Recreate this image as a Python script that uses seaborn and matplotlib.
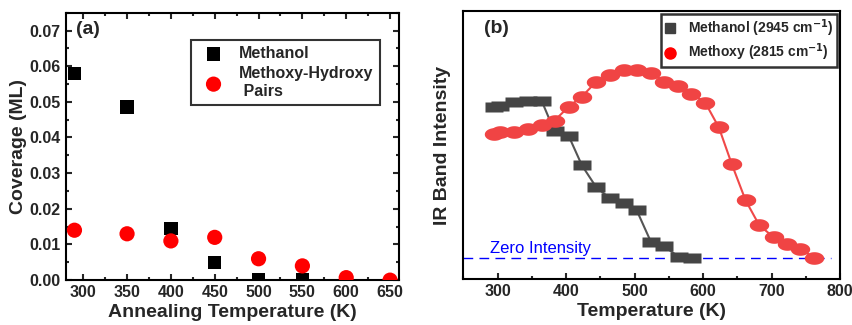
"""
two panel figure: coverage vs annealing temperature (a)
and IR band intensity vs temperature (b)
"""

import numpy as np
import pandas as pd
import seaborn as sns
import matplotlib.pyplot as plt
from matplotlib.path import Path
from matplotlib.lines import Line2D
from matplotlib.ticker import MultipleLocator


# panel (a) data
annealT_meoh = [290, 350, 400, 450, 500, 550]
cov_meoh = [0.058, 0.0485, 0.0145, 0.005, 0.0, 0.0]
annealT_pair = [290, 350, 400, 450, 500, 550, 600, 650]
cov_pair = [0.014, 0.013, 0.011, 0.012, 0.006, 0.004, 0.0007, 0.0]

# panel (b) data (arbitrary intensity units, zero line at 0)
irT_meoh = [294, 304, 324, 344, 364, 383, 404, 423, 444, 464, 484, 503,
            524, 543, 565, 584]
ir_meoh = [152, 153, 157, 158, 158, 127, 122, 93, 71, 60, 55, 48,
           16, 12, 1, 0.7]
irT_meox = [294, 304, 324, 344, 364, 383, 404, 423, 444, 464, 484, 503,
            524, 543, 563, 583, 603, 623, 642, 662, 682, 703, 722, 742, 762]
ir_meox = [124, 126, 126, 129, 133, 138, 152, 162, 177, 184, 189, 189,
           186, 177, 173, 165, 156, 131, 94, 58, 33, 21, 14, 9, 0.7]

datA1 = pd.DataFrame({'T': annealT_meoh, 'cov': cov_meoh})
datA2 = pd.DataFrame({'T': annealT_pair, 'cov': cov_pair})
datB1 = pd.DataFrame({'T': irT_meoh, 'I': ir_meoh})
datB2 = pd.DataFrame({'T': irT_meox, 'I': ir_meox})


sns.set_style('ticks')
plt.rcParams['font.family'] = ['Liberation Sans', 'DejaVu Sans']
plt.rcParams['font.weight'] = 'bold'
plt.rcParams['axes.labelweight'] = 'bold'

fig = plt.figure(figsize=(8.52, 3.25), dpi=100)
axA = fig.add_axes([0.0771, 0.138, 0.391, 0.823])
axB = fig.add_axes([0.544, 0.141, 0.442, 0.826])

#################################################################
# panel (a)
#################################################################
sns.scatterplot(x='T', y='cov', data=datA1, ax=axA, marker='s', s=95,
                color='black', edgecolor='none', label='Methanol', zorder=3)
sns.scatterplot(x='T', y='cov', data=datA2, ax=axA, marker='o', s=120,
                color='red', edgecolor='none',
                label='Methoxy-Hydroxy\n Pairs', zorder=3)

axA.set_xlim(280, 660)
axA.set_ylim(0, 0.075)
axA.xaxis.set_major_locator(MultipleLocator(50))
axA.xaxis.set_minor_locator(MultipleLocator(25))
axA.yaxis.set_major_locator(MultipleLocator(0.01))
axA.yaxis.set_minor_locator(MultipleLocator(0.005))
axA.yaxis.set_major_formatter(plt.FormatStrFormatter('%.2f'))
axA.tick_params(which='both', direction='in', top=True, right=True,
                width=1.5, labelsize=11.5)
axA.tick_params(which='major', length=4)
axA.tick_params(which='minor', length=2)
axA.set_xlabel('Annealing Temperature (K)', fontsize=14, labelpad=3)
axA.set_ylabel('Coverage (ML)', fontsize=14, labelpad=2)
axA.text(0.03, 0.97, '(a)', transform=axA.transAxes, fontsize=14,
         fontweight='bold', va='top', ha='left')
for sp in axA.spines.values():
    sp.set_linewidth(1.5)
    sp.set_color('black')

legA = axA.legend(loc='upper right', bbox_to_anchor=(0.943, 0.898),
                  borderaxespad=0, fontsize=11.5, frameon=True,
                  fancybox=False, edgecolor='black', handletextpad=0.6,
                  borderpad=0.4, labelspacing=0.3)
legA.get_frame().set_linewidth(1.5)

#################################################################
# panel (b)
#################################################################
# stretched markers as in the original figure
rect = Path([(-1, -0.6), (1, -0.6), (1, 0.6), (-1, 0.6), (-1, -0.6)],
            [Path.MOVETO, Path.LINETO, Path.LINETO, Path.LINETO,
             Path.CLOSEPOLY])
tt = np.linspace(0, 2 * np.pi, 40)
ell = Path(np.column_stack([np.cos(tt), 0.65 * np.sin(tt)]), closed=True)

sns.lineplot(x='T', y='I', data=datB1, ax=axB, color='#555555', lw=1.5,
             marker=rect, markersize=13, markerfacecolor='#454545',
             markeredgecolor='none', zorder=3)
sns.lineplot(x='T', y='I', data=datB2, ax=axB, color='#f04848', lw=1.5,
             marker=ell, markersize=14, markerfacecolor='#f04444',
             markeredgecolor='none', zorder=4)

axB.axhline(0, xmin=0, xmax=0.975, color='blue', lw=1,
            ls=(0, (7, 4.5)), zorder=2)
axB.text(289, 5.5, 'Zero Intensity', color='blue', fontsize=12,
         fontweight='normal')

axB.set_xlim(250, 800)
axB.set_ylim(-21, 248)
axB.xaxis.set_major_locator(MultipleLocator(100))
axB.xaxis.set_minor_locator(MultipleLocator(50))
axB.set_yticks([])
axB.tick_params(axis='x', which='both', direction='in', width=1.5,
                labelsize=11.5)
axB.tick_params(axis='x', which='major', length=4)
axB.tick_params(axis='x', which='minor', length=2)
axB.set_xlabel('Temperature (K)', fontsize=14, labelpad=3)
axB.set_ylabel('IR Band Intensity', fontsize=14, labelpad=9)
axB.text(0.055, 0.965, '(b)', transform=axB.transAxes, fontsize=14,
         fontweight='bold', va='top', ha='left')
for sp in axB.spines.values():
    sp.set_linewidth(1.5)
    sp.set_color('black')

handles = [Line2D([], [], ls='none', marker='s', markersize=7,
                  color='#404040'),
           Line2D([], [], ls='none', marker='o', markersize=8,
                  color='red')]
legB = axB.legend(handles, ['Methanol (2945 cm$^{\\mathbf{-1}}$)',
                            'Methoxy (2815 cm$^{\\mathbf{-1}}$)'],
                  loc='upper right', bbox_to_anchor=(0.991, 0.988),
                  borderaxespad=0, fontsize=10, frameon=True,
                  fancybox=False, edgecolor='black', handlelength=0.8,
                  handletextpad=0.9, borderpad=0.25, labelspacing=0.2)
legB.get_frame().set_linewidth(1.8)
legB.set_zorder(10)

plt.savefig('out.png', dpi=100)
